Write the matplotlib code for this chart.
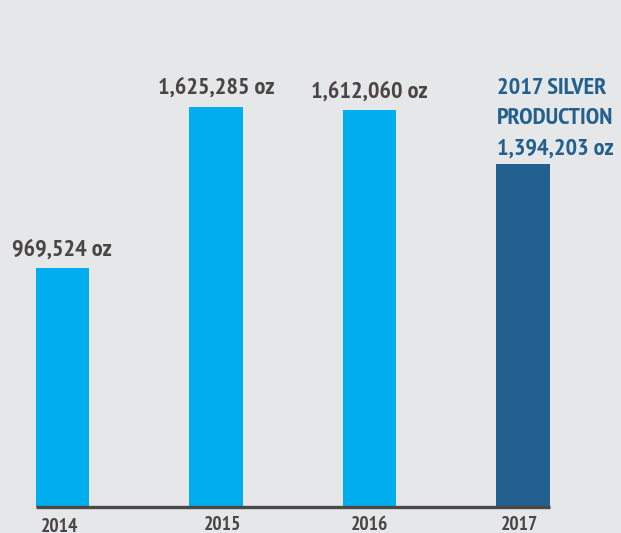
import numpy as np
import matplotlib.pyplot as plt

years = ['2014', '2015', '2016', '2017']
ounces = [969524, 1625285, 1612060, 1394203]
bar_colors = ['#00aeef', '#00aeef', '#00aeef', '#22618f']

font = ['PT Sans Narrow', 'Fira Sans Condensed', 'DejaVu Sans']
grey = '#4b4546'
blue = '#22608e'
bg = '#e6e7e8'

fig = plt.figure(figsize=(6.21, 5.33), dpi=100)
fig.patch.set_facecolor(bg)
ax = fig.add_axes([0, 0, 1, 1])
ax.set_facecolor(bg)

# one bar slot = 153.6 px, 400 px of height = 1,625,285 oz
slot = 153.6
x = np.arange(len(years))
ax.set_xlim(-62.3 / slot, (621 - 62.3) / slot)
ax.set_ylim(-26 / 400 * 1625285, 507 / 400 * 1625285)
w = 53.5 / slot
ax.bar(x, ounces, width=w, color=bar_colors, zorder=2)
ax.plot([-w / 2, 3 + w / 2], [0, 0], color='#4a4848', lw=2.4, solid_capstyle='butt', zorder=3)
ax.axis('off')

pt = 0.72  # points per pixel
for i in range(3):
    ax.annotate(f'{ounces[i]:,} oz', (x[i], ounces[i]), xytext=(0, 13 * pt),
                textcoords='offset points', ha='center', va='baseline',
                fontsize=17.5, fontweight='bold', color=grey, family=font)
ax.annotate(f'2017 SILVER\nPRODUCTION\n{ounces[3]:,} oz', (x[3], ounces[3]),
            xytext=(-26 * pt, 9 * pt), textcoords='offset points', ha='left', va='baseline',
            fontsize=17.5, fontweight='bold', color=blue, family=font,
            linespacing=1.6)

dx = [-2.5, 6.5, 0.5, -3.5]
dy = [-25, -23, -23, -23]
for i in range(4):
    ax.annotate(years[i], (x[i], 0), xytext=(dx[i] * pt, dy[i] * pt),
                textcoords='offset points', ha='center', va='baseline',
                fontsize=14, fontweight='bold', color=grey, family=font)

fig.savefig('out.png', dpi=100, facecolor=fig.get_facecolor())
